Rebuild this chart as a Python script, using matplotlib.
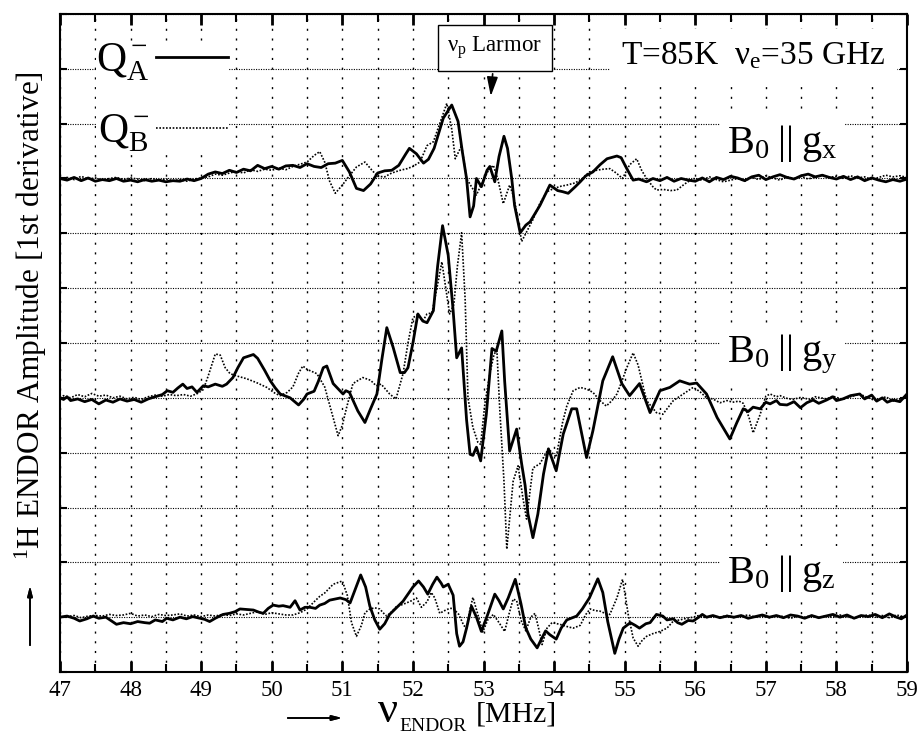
import numpy as np
import matplotlib.pyplot as plt
from matplotlib.lines import Line2D
from matplotlib.ticker import MultipleLocator

plt.rcParams["font.family"] = ["Liberation Serif", "DejaVu Serif"]
plt.rcParams["mathtext.fontset"] = "custom"
plt.rcParams["mathtext.rm"] = "Liberation Serif"
plt.rcParams["mathtext.it"] = "Liberation Serif:italic"

# ENDOR traces: (frequency in MHz, amplitude in grid units above the trace baseline)
# QA = solid, QB = dotted

gx_qa = [
    (47.0, 0.00), (47.1, -0.03), (47.2, 0.02), (47.3, -0.04), (47.4, 0.01), (47.5, -0.05),
    (47.6, -0.02), (47.7, -0.04), (47.8, 0.00), (47.9, -0.05), (48.0, -0.03), (48.1, -0.06),
    (48.2, -0.02), (48.3, -0.05), (48.4, -0.03), (48.5, -0.06), (48.6, -0.04), (48.7, -0.05),
    (48.8, -0.01), (48.9, -0.04), (49.0, 0.00), (49.1, 0.08), (49.2, 0.12), (49.3, 0.09),
    (49.4, 0.15), (49.5, 0.11), (49.6, 0.17), (49.7, 0.14), (49.8, 0.24), (49.9, 0.18),
    (50.0, 0.22), (50.1, 0.17), (50.2, 0.23), (50.3, 0.24), (50.4, 0.20), (50.5, 0.27),
    (50.6, 0.22), (50.7, 0.20), (50.8, 0.27), (50.9, 0.28), (51.0, 0.33), (51.1, 0.12),
    (51.2, -0.18), (51.3, -0.22), (51.4, -0.10), (51.5, 0.10), (51.6, 0.14), (51.7, 0.15),
    (51.8, 0.24), (51.9, 0.45), (51.95, 0.55), (52.05, 0.45), (52.15, 0.28), (52.22, 0.35),
    (52.3, 0.55), (52.43, 1.10), (52.55, 1.34), (52.64, 1.04), (52.7, 0.49), (52.76, 0.00),
    (52.81, -0.70), (52.86, -0.50), (52.9, 0.00), (52.97, -0.15), (53.05, 0.15), (53.09, 0.22),
    (53.16, -0.06), (53.22, 0.40), (53.29, 0.77), (53.34, 0.55), (53.4, 0.00), (53.44, -0.49),
    (53.52, -0.99), (53.6, -0.85), (53.66, -0.79), (53.8, -0.49), (53.94, -0.12), (54.05, -0.22),
    (54.12, -0.24), (54.2, -0.27), (54.3, -0.15), (54.37, -0.06), (54.45, 0.05), (54.55, 0.12),
    (54.65, 0.25), (54.75, 0.36), (54.89, 0.41), (54.95, 0.38), (55.03, 0.18), (55.12, -0.03),
    (55.2, -0.01), (55.31, -0.06), (55.4, 0.00), (55.5, -0.04), (55.6, 0.02), (55.7, -0.05),
    (55.8, 0.00), (55.9, -0.03), (56.0, -0.05), (56.1, 0.01), (56.2, -0.06), (56.3, 0.02),
    (56.4, -0.02), (56.5, 0.04), (56.6, 0.01), (56.7, -0.04), (56.8, 0.03), (56.9, 0.06),
    (57.0, -0.02), (57.1, 0.03), (57.2, 0.07), (57.3, 0.02), (57.4, -0.01), (57.5, 0.05),
    (57.6, 0.08), (57.7, 0.03), (57.8, 0.06), (57.9, 0.02), (58.0, -0.01), (58.1, 0.04),
    (58.2, -0.02), (58.3, 0.03), (58.4, -0.04), (58.5, 0.01), (58.6, -0.03), (58.7, -0.06),
    (58.8, -0.02), (58.9, -0.05), (59.0, -0.01),
]

gx_qb = [
    (47.0, 0.00), (47.1, 0.02), (47.2, -0.02), (47.3, 0.04), (47.4, -0.01), (47.5, 0.01),
    (47.6, -0.03), (47.7, 0.00), (47.8, 0.02), (47.9, -0.02), (48.0, 0.01), (48.1, -0.01),
    (48.2, -0.04), (48.3, 0.00), (48.4, -0.03), (48.5, -0.01), (48.6, -0.04), (48.7, -0.02),
    (48.8, -0.05), (48.9, -0.01), (49.0, 0.01), (49.1, 0.03), (49.2, 0.08), (49.3, 0.06),
    (49.4, 0.10), (49.5, 0.13), (49.6, 0.10), (49.7, 0.16), (49.8, 0.13), (49.9, 0.17),
    (50.0, 0.15), (50.1, 0.19), (50.2, 0.16), (50.3, 0.22), (50.4, 0.26), (50.5, 0.30),
    (50.6, 0.42), (50.68, 0.49), (50.75, 0.30), (50.82, -0.05), (50.9, -0.27), (51.0, -0.12),
    (51.1, 0.05), (51.2, 0.21), (51.32, 0.30), (51.42, 0.15), (51.5, 0.04), (51.6, 0.03),
    (51.7, 0.10), (51.82, 0.15), (51.92, 0.18), (52.0, 0.22), (52.1, 0.30), (52.2, 0.60),
    (52.29, 0.67), (52.38, 1.00), (52.48, 1.37), (52.55, 0.90), (52.6, 0.36), (52.69, 0.60),
    (52.76, 0.00), (52.83, -0.15), (52.9, -0.30), (52.99, -0.05), (53.07, 0.15), (53.14, 0.24),
    (53.21, -0.05), (53.28, -0.46), (53.37, -0.12), (53.42, -0.30), (53.47, -0.61), (53.54, -1.15),
    (53.62, -0.95), (53.7, -0.75), (53.8, -0.45), (53.9, -0.24), (54.0, -0.18), (54.1, -0.14),
    (54.18, -0.12), (54.3, -0.08), (54.4, 0.00), (54.5, 0.12), (54.6, 0.15), (54.7, 0.17),
    (54.79, 0.18), (54.88, 0.10), (54.97, 0.00), (55.07, 0.25), (55.17, 0.36), (55.24, 0.15),
    (55.31, 0.00), (55.4, -0.15), (55.45, -0.21), (55.55, -0.20), (55.65, -0.22), (55.74, -0.21),
    (55.85, -0.10), (55.97, 0.00), (56.1, -0.03), (56.2, 0.03), (56.3, -0.02), (56.4, -0.06),
    (56.5, -0.03), (56.6, 0.00), (56.7, -0.05), (56.8, 0.02), (56.9, -0.02), (57.0, 0.05),
    (57.1, 0.01), (57.2, -0.03), (57.3, 0.03), (57.4, 0.00), (57.5, 0.04), (57.6, -0.01),
    (57.7, 0.03), (57.8, 0.06), (57.9, 0.02), (58.0, 0.04), (58.1, 0.00), (58.2, 0.05),
    (58.3, 0.01), (58.4, 0.03), (58.5, -0.02), (58.6, 0.02), (58.7, 0.06), (58.8, 0.03),
    (58.9, 0.05), (59.0, 0.02),
]

gy_qa = [
    (47.0, 0.00), (47.05, -0.03), (47.1, 0.02), (47.15, -0.05), (47.25, -0.02), (47.35, -0.07),
    (47.45, -0.03), (47.55, -0.11), (47.65, -0.04), (47.75, -0.08), (47.85, -0.02), (47.95, -0.06),
    (48.05, -0.03), (48.15, -0.08), (48.25, -0.02), (48.35, 0.02), (48.45, 0.06), (48.52, 0.13),
    (48.6, 0.10), (48.67, 0.18), (48.74, 0.25), (48.8, 0.17), (48.87, 0.20), (48.94, 0.10),
    (49.03, 0.22), (49.1, 0.20), (49.2, 0.25), (49.3, 0.21), (49.36, 0.25), (49.45, 0.37),
    (49.52, 0.55), (49.6, 0.73), (49.74, 0.79), (49.8, 0.72), (49.9, 0.50), (49.98, 0.31),
    (50.05, 0.18), (50.12, 0.07), (50.2, 0.03), (50.26, 0.00), (50.38, -0.13), (50.45, -0.03),
    (50.5, 0.07), (50.6, 0.12), (50.66, 0.30), (50.73, 0.55), (50.78, 0.58), (50.87, 0.26),
    (50.95, 0.15), (51.01, 0.07), (51.05, 0.13), (51.1, 0.10), (51.22, -0.24), (51.32, -0.45),
    (51.4, -0.20), (51.49, 0.07), (51.56, 0.70), (51.63, 1.28), (51.72, 0.92), (51.82, 0.46),
    (51.88, 0.46), (51.93, 0.55), (52.0, 1.00), (52.07, 1.53), (52.14, 1.40), (52.2, 1.37),
    (52.29, 1.59), (52.35, 2.40), (52.42, 3.14), (52.5, 2.60), (52.57, 1.59), (52.62, 0.73),
    (52.69, 0.91), (52.76, -0.40), (52.81, -1.03), (52.85, -1.05), (52.9, -0.90), (52.96, -1.15),
    (53.04, -0.30), (53.12, 0.90), (53.18, 0.85), (53.26, 1.22), (53.3, 0.30), (53.37, -0.97),
    (53.47, -0.57), (53.54, -1.20), (53.59, -1.60), (53.63, -2.12), (53.7, -2.55), (53.77, -2.12),
    (53.85, -1.39), (53.92, -0.93), (54.03, -1.33), (54.13, -0.66), (54.25, -0.20), (54.32, -0.20),
    (54.46, -1.09), (54.55, -0.60), (54.69, 0.31), (54.83, 0.75), (54.96, 0.26), (55.07, 0.04),
    (55.21, 0.26), (55.36, -0.27), (55.5, 0.13), (55.64, 0.19), (55.78, 0.31), (55.92, 0.25),
    (56.02, 0.27), (56.16, 0.07), (56.31, -0.36), (56.49, -0.75), (56.59, -0.45), (56.68, -0.20),
    (56.75, -0.25), (56.82, -0.17), (56.92, -0.20), (57.0, -0.08), (57.06, -0.11), (57.15, -0.05),
    (57.2, -0.12), (57.3, -0.13), (57.4, -0.07), (57.49, -0.18), (57.58, -0.09), (57.67, -0.04),
    (57.75, -0.10), (57.86, -0.04), (57.95, 0.02), (58.0, -0.05), (58.09, -0.02), (58.2, 0.04),
    (58.33, 0.07), (58.4, -0.02), (58.5, 0.05), (58.57, -0.06), (58.65, 0.00), (58.72, -0.08),
    (58.8, -0.04), (58.9, -0.07), (59.0, 0.07),
]

gy_qb = [
    (47.0, 0.00), (47.05, 0.04), (47.15, 0.00), (47.25, 0.06), (47.35, 0.02), (47.45, 0.08),
    (47.55, 0.03), (47.65, 0.05), (47.75, 0.00), (47.85, 0.03), (47.95, -0.02), (48.05, 0.01),
    (48.15, -0.03), (48.25, 0.02), (48.35, 0.05), (48.45, 0.03), (48.55, 0.06), (48.65, 0.04),
    (48.75, 0.06), (48.85, 0.03), (48.95, 0.08), (49.03, 0.15), (49.1, 0.40), (49.2, 0.80),
    (49.27, 0.78), (49.34, 0.55), (49.41, 0.44), (49.5, 0.40), (49.64, 0.35), (49.78, 0.28),
    (49.93, 0.19), (50.05, 0.08), (50.12, 0.04), (50.22, 0.10), (50.3, 0.20), (50.38, 0.45),
    (50.44, 0.58), (50.5, 0.52), (50.64, 0.44), (50.75, 0.20), (50.87, -0.36), (50.94, -0.69),
    (51.0, -0.50), (51.06, -0.18), (51.15, 0.26), (51.29, 0.37), (51.4, 0.32), (51.48, 0.22),
    (51.55, 0.25), (51.67, 0.07), (51.76, -0.02), (51.86, 0.44), (51.93, 1.00), (52.0, 1.46),
    (52.07, 1.52), (52.14, 1.40), (52.2, 1.53), (52.27, 1.55), (52.34, 2.00), (52.41, 2.48),
    (52.52, 1.53), (52.58, 1.70), (52.63, 2.40), (52.69, 3.01), (52.74, 1.80), (52.78, 0.00),
    (52.85, -0.54), (52.92, -0.81), (52.96, -0.85), (53.02, -0.10), (53.09, 0.44), (53.15, 0.80),
    (53.19, 0.86), (53.23, -0.20), (53.29, -1.52), (53.33, -2.76), (53.42, -1.52), (53.49, -1.24),
    (53.56, -1.84), (53.61, -2.21), (53.7, -1.28), (53.8, -1.20), (53.92, -0.93), (54.03, -1.08),
    (54.12, -0.45), (54.18, -0.15), (54.27, 0.13), (54.37, 0.19), (54.46, 0.16), (54.55, 0.10),
    (54.65, -0.05), (54.74, -0.15), (54.82, -0.05), (54.89, 0.07), (54.96, 0.30), (55.03, 0.55),
    (55.12, 0.82), (55.19, 0.60), (55.31, -0.05), (55.45, -0.27), (55.54, -0.30), (55.69, -0.05),
    (55.83, 0.07), (55.97, 0.19), (56.06, 0.12), (56.16, 0.00), (56.25, -0.02), (56.35, -0.09),
    (56.45, -0.05), (56.53, -0.08), (56.62, -0.06), (56.68, -0.10), (56.76, -0.35), (56.82, -0.64),
    (56.92, -0.30), (57.0, 0.03), (57.06, 0.07), (57.15, 0.02), (57.2, 0.04), (57.3, -0.01),
    (57.38, -0.03), (57.5, 0.01), (57.62, -0.03), (57.7, 0.02), (57.86, -0.02), (57.95, 0.03),
    (58.09, -0.03), (58.2, 0.02), (58.33, 0.07), (58.45, 0.00), (58.57, -0.05), (58.7, 0.02),
    (58.8, -0.06), (58.9, -0.02), (59.0, 0.00),
]

gz_qa = [
    (47.0, 0.00), (47.1, 0.02), (47.2, -0.02), (47.28, -0.07), (47.38, -0.03), (47.47, 0.02),
    (47.55, -0.02), (47.65, 0.00), (47.72, -0.06), (47.8, -0.13), (47.9, -0.10), (48.0, -0.12),
    (48.1, -0.08), (48.2, -0.10), (48.27, -0.11), (48.35, -0.05), (48.45, -0.08), (48.51, -0.02),
    (48.6, -0.05), (48.7, 0.00), (48.79, -0.03), (48.88, 0.01), (48.98, -0.02), (49.05, -0.04),
    (49.12, -0.08), (49.2, -0.02), (49.31, 0.05), (49.4, 0.07), (49.48, 0.10), (49.55, 0.15),
    (49.65, 0.14), (49.74, 0.13), (49.82, 0.09), (49.88, 0.07), (49.95, 0.16), (50.02, 0.22),
    (50.1, 0.20), (50.16, 0.21), (50.26, 0.18), (50.33, 0.30), (50.4, 0.13), (50.47, 0.18),
    (50.54, 0.18), (50.62, 0.16), (50.68, 0.22), (50.75, 0.25), (50.82, 0.31), (50.97, 0.35),
    (51.05, 0.32), (51.11, 0.26), (51.18, 0.50), (51.26, 0.77), (51.33, 0.55), (51.39, 0.20),
    (51.46, -0.05), (51.53, -0.22), (51.6, -0.12), (51.67, 0.05), (51.75, 0.15), (51.86, 0.29),
    (51.93, 0.42), (52.0, 0.55), (52.08, 0.66), (52.15, 0.55), (52.21, 0.42), (52.28, 0.60),
    (52.34, 0.73), (52.4, 0.62), (52.43, 0.55), (52.5, 0.60), (52.57, 0.40), (52.62, -0.30),
    (52.66, -0.53), (52.71, -0.45), (52.76, -0.20), (52.83, 0.20), (52.9, 0.00), (52.97, -0.26),
    (53.06, 0.05), (53.16, 0.42), (53.22, 0.30), (53.28, 0.15), (53.35, 0.35), (53.45, 0.69),
    (53.53, 0.25), (53.6, -0.20), (53.67, -0.40), (53.76, -0.56), (53.82, -0.40), (53.88, -0.25),
    (53.94, -0.32), (54.03, -0.40), (54.1, -0.20), (54.18, -0.05), (54.32, 0.02), (54.4, 0.15),
    (54.5, 0.35), (54.62, 0.70), (54.69, 0.45), (54.76, -0.08), (54.86, -0.66), (54.92, -0.40),
    (54.98, -0.20), (55.08, -0.10), (55.15, -0.15), (55.21, -0.20), (55.3, -0.12), (55.36, -0.10),
    (55.45, 0.05), (55.54, 0.02), (55.6, -0.05), (55.69, -0.03), (55.75, -0.10), (55.81, -0.13),
    (55.9, -0.06), (55.97, -0.07), (56.05, 0.00), (56.1, 0.05), (56.16, 0.00), (56.25, 0.03),
    (56.35, -0.01), (56.45, 0.02), (56.55, 0.00), (56.65, 0.03), (56.75, -0.02), (56.85, 0.01),
    (56.95, 0.04), (57.05, 0.00), (57.15, 0.03), (57.25, -0.01), (57.35, 0.04), (57.45, 0.02),
    (57.55, -0.02), (57.65, 0.03), (57.75, -0.01), (57.85, 0.02), (57.95, 0.05), (58.05, 0.00),
    (58.15, 0.04), (58.25, -0.02), (58.35, 0.03), (58.45, 0.01), (58.55, 0.05), (58.65, -0.01),
    (58.75, 0.06), (58.85, 0.00), (58.92, -0.03), (59.0, 0.04),
]

gz_qb = [
    (47.0, 0.00), (47.1, 0.01), (47.2, 0.03), (47.3, -0.01), (47.4, 0.02), (47.5, 0.03),
    (47.6, 0.02), (47.7, 0.05), (47.8, 0.03), (47.9, 0.04), (48.0, 0.07), (48.1, 0.02),
    (48.2, 0.04), (48.3, 0.01), (48.4, 0.05), (48.5, 0.03), (48.6, 0.04), (48.7, 0.06),
    (48.8, 0.02), (48.9, 0.04), (49.0, 0.01), (49.1, 0.04), (49.2, 0.02), (49.3, 0.05),
    (49.4, 0.03), (49.5, 0.06), (49.6, 0.04), (49.7, 0.07), (49.8, 0.10), (49.9, 0.05),
    (50.0, 0.08), (50.1, 0.06), (50.2, 0.04), (50.3, 0.04), (50.4, 0.08), (50.5, 0.15),
    (50.6, 0.28), (50.68, 0.38), (50.75, 0.44), (50.87, 0.60), (51.0, 0.66), (51.07, 0.40),
    (51.13, -0.10), (51.2, -0.35), (51.27, -0.15), (51.32, 0.08), (51.39, 0.15), (51.46, 0.17),
    (51.53, 0.15), (51.6, 0.05), (51.63, 0.02), (51.7, 0.10), (51.77, 0.20), (51.85, 0.23),
    (51.91, 0.26), (51.98, 0.30), (52.05, 0.35), (52.12, 0.18), (52.2, 0.28), (52.26, 0.45),
    (52.31, 0.35), (52.38, 0.07), (52.45, 0.12), (52.52, 0.16), (52.57, 0.16), (52.65, 0.05),
    (52.72, -0.15), (52.76, -0.20), (52.81, 0.15), (52.85, 0.36), (52.92, 0.05), (52.99, -0.27),
    (53.06, -0.05), (53.14, 0.05), (53.22, -0.10), (53.3, -0.26), (53.36, 0.05), (53.42, 0.33),
    (53.47, 0.30), (53.53, -0.05), (53.6, -0.25), (53.67, 0.00), (53.73, 0.07), (53.78, -0.20),
    (53.83, -0.50), (53.9, -0.20), (53.97, -0.10), (54.08, -0.13), (54.18, -0.17), (54.27, -0.20),
    (54.37, -0.15), (54.45, 0.05), (54.51, 0.15), (54.58, 0.12), (54.65, 0.11), (54.72, 0.07),
    (54.79, 0.05), (54.89, 0.35), (54.97, 0.69), (55.02, 0.30), (55.05, 0.05), (55.12, -0.38),
    (55.19, -0.53), (55.25, -0.42), (55.31, -0.35), (55.4, -0.30), (55.5, -0.26), (55.6, -0.20),
    (55.69, -0.07), (55.78, -0.05), (55.88, -0.02), (55.97, 0.00), (56.05, 0.03), (56.15, -0.01),
    (56.25, 0.02), (56.35, 0.00), (56.45, 0.03), (56.55, -0.01), (56.65, 0.02), (56.75, 0.04),
    (56.85, 0.00), (56.95, 0.02), (57.05, -0.01), (57.15, 0.03), (57.25, 0.01), (57.35, -0.02),
    (57.45, 0.02), (57.55, 0.00), (57.65, 0.03), (57.75, -0.01), (57.85, 0.02), (57.95, 0.00),
    (58.05, 0.04), (58.15, 0.01), (58.25, -0.02), (58.35, 0.02), (58.45, 0.04), (58.55, 0.00),
    (58.65, 0.03), (58.75, -0.01), (58.85, 0.04), (58.95, 0.01), (59.0, -0.02),
]

# vertical offset of each orientation's baseline on the stacked plot
baselines = {"x": 9, "y": 5, "z": 1}
spectra = {"x": (gx_qa, gx_qb), "y": (gy_qa, gy_qb), "z": (gz_qa, gz_qb)}
label_heights = {"x": 0.47, "y": 0.64, "z": 0.62}

larmor_mhz = 53.1

fig = plt.figure(figsize=(9.21, 7.36), dpi=100)
ax = fig.add_axes([60 / 921, 1 - 672 / 736, 847 / 921, 658 / 736])

dotted = (0, (1, 1))
for key, (qa, qb) in spectra.items():
    qa = np.array(qa)
    qb = np.array(qb)
    ax.plot(qb[:, 0], qb[:, 1] + baselines[key], color="black", lw=1.2, ls=dotted)
    ax.plot(qa[:, 0], qa[:, 1] + baselines[key], color="black", lw=2.0,
            solid_joinstyle="round")

    ax.text(56.45, baselines[key] + label_heights[key],
            r"$\mathregular{B_0\;||\;g_%s}$" % key, fontsize=29,
            ha="left", va="baseline", zorder=4,
            bbox=dict(facecolor="white", edgecolor="none", pad=5))

ax.set_xlim(47, 59)
ax.set_ylim(0, 12)
ax.xaxis.set_major_locator(MultipleLocator(1))
ax.xaxis.set_minor_locator(MultipleLocator(0.5))
ax.yaxis.set_major_locator(MultipleLocator(1))
ax.set_yticklabels([])

ax.set_axisbelow(True)
ax.xaxis.grid(True, which="both", color="black", lw=1.0, ls=(0, (1.5, 5.5)))
ax.yaxis.grid(True, which="major", color="black", lw=0.8, ls=(0, (1, 1.2)))

ax.tick_params(axis="x", which="major", direction="in", top=True, length=8, width=2,
               labelsize=16.5, pad=6)
ax.tick_params(axis="x", which="minor", direction="in", top=True, length=6, width=1.5)
ax.tick_params(axis="y", which="major", direction="in", right=True, length=5, width=1.5)
for s in ax.spines.values():
    s.set_linewidth(1.5)

# legend for the two samples
handles = [Line2D([], [], color="black", lw=2.0),
           Line2D([], [], color="black", lw=1.2, ls=dotted)]
leg = ax.legend(handles, [r"$\mathregular{Q_A^-}$", r"$\mathregular{Q_B^-}$"],
                loc="upper left", bbox_to_anchor=(0.018, 0.99), fontsize=30,
                markerfirst=False, handlelength=1.75, handletextpad=0.15,
                labelspacing=0.72, borderpad=0.0, frameon=True, fancybox=False)
leg.get_frame().set_facecolor("white")
leg.get_frame().set_edgecolor("none")
leg.get_frame().set_alpha(1)

ax.text(0.975, 0.924, r"T=85K  $\mathregular{\nu_e}$=35 GHz", transform=ax.transAxes,
        fontsize=24, ha="right", va="baseline", zorder=4,
        bbox=dict(facecolor="white", edgecolor="none", pad=8))

ax.annotate(r"$\mathregular{\nu_p}$ Larmor", xy=(larmor_mhz, 10.45), xytext=(53.16, 11.38),
            fontsize=16.5, ha="center", va="center", zorder=5,
            bbox=dict(boxstyle="square,pad=0.4", facecolor="white", edgecolor="black", lw=1),
            arrowprops=dict(arrowstyle="-|>,head_length=0.7,head_width=0.2",
                            color="black", lw=1.2))

# axis labels with arrows
fig.text(31 / 921, 1 - 316 / 736, r"$\mathregular{^1}$H ENDOR Amplitude [1st derivative]",
         rotation=90, fontsize=22.5, ha="center", va="center")
fig.text(387 / 921, 1 - 722 / 736, r"$\mathregular{\nu}$", fontsize=32, ha="center",
         va="baseline")
fig.text(399 / 921, 1 / 736, "ENDOR", fontsize=14, ha="left", va="bottom")
fig.text(476 / 921, 1 - 722 / 736, "[MHz]", fontsize=21.5, ha="left", va="baseline")
fig.add_artist(plt.annotate("", xy=(345 / 921, 1 - 718 / 736), xytext=(285 / 921, 1 - 718 / 736),
                            xycoords="figure fraction", textcoords="figure fraction",
                            arrowprops=dict(arrowstyle="-|>,head_length=0.6,head_width=0.15",
                                            color="black", lw=1.2)))
fig.add_artist(plt.annotate("", xy=(30 / 921, 1 - 583 / 736), xytext=(30 / 921, 1 - 648 / 736),
                            xycoords="figure fraction", textcoords="figure fraction",
                            arrowprops=dict(arrowstyle="-|>,head_length=0.6,head_width=0.15",
                                            color="black", lw=1.2)))

fig.savefig("out.png", dpi=100)
